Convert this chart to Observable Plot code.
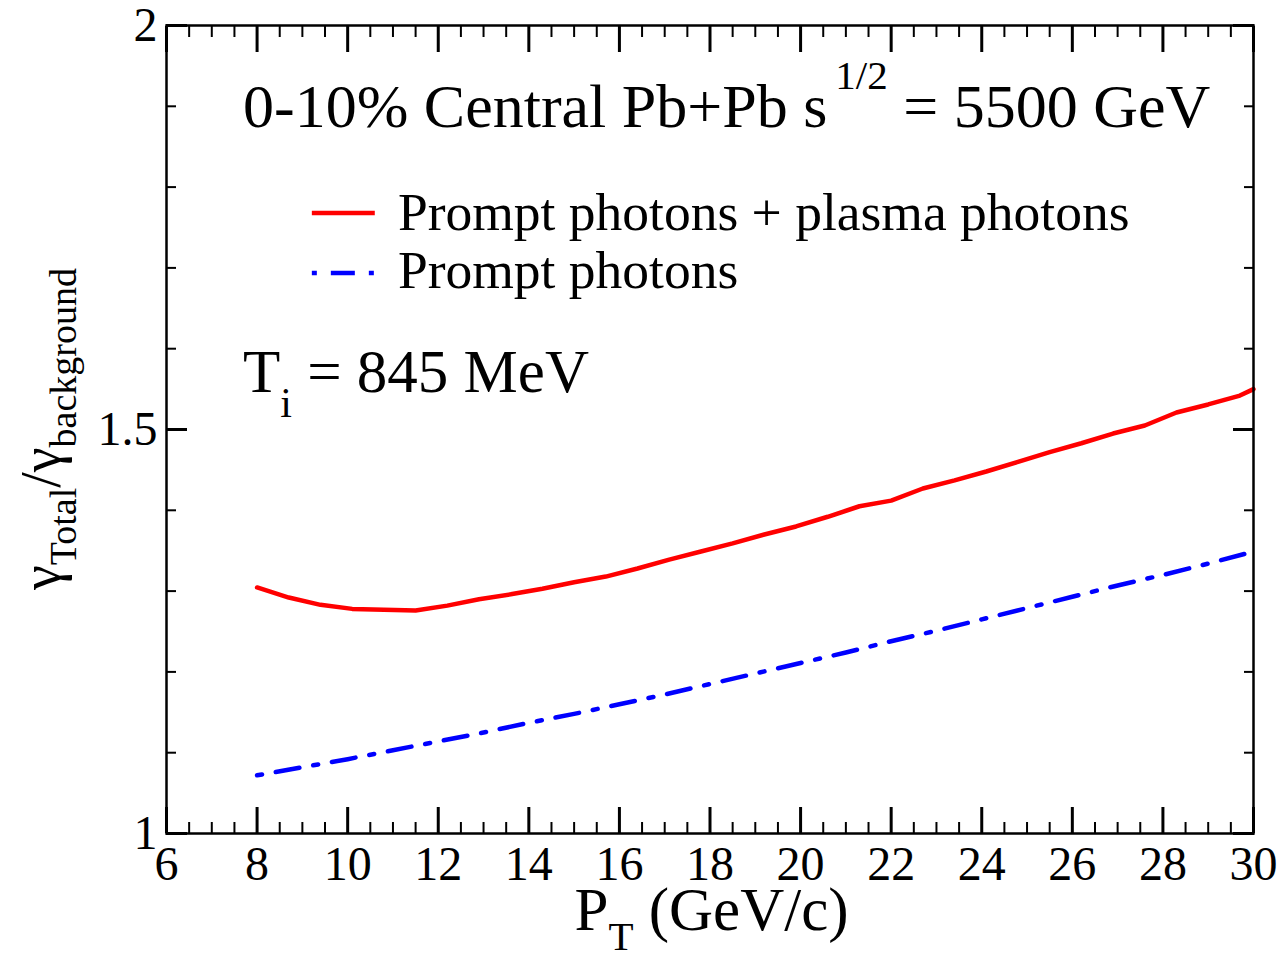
<!DOCTYPE html>
<html>
<head>
<meta charset="utf-8">
<script src="https://cdn.jsdelivr.net/npm/d3@7"></script>
<script src="https://cdn.jsdelivr.net/npm/@observablehq/plot@0.6"></script>
<style>
  html, body { margin: 0; padding: 0; background: #fff; }
  #chart svg { display: block; }
</style>
</head>
<body>
<div id="chart"></div>
<script>
// ---- Data ----
const ptTotal = [8.0, 8.7, 9.4, 10.1, 10.8, 11.5, 12.2, 12.9, 13.6, 14.3, 15.0, 15.7, 16.4, 17.1, 17.8, 18.5, 19.2, 19.9, 20.6, 21.3, 22.0, 22.7, 23.4, 24.1, 24.8, 25.5, 26.2, 26.9, 27.6, 28.3, 29.0, 29.7, 30.0];
const ratioTotal = [1.3045, 1.292, 1.283, 1.278, 1.277, 1.276, 1.282, 1.290, 1.296, 1.303, 1.311, 1.318, 1.328, 1.339, 1.349, 1.359, 1.370, 1.380, 1.392, 1.405, 1.412, 1.427, 1.437, 1.448, 1.460, 1.472, 1.483, 1.495, 1.505, 1.521, 1.531, 1.542, 1.550];
const ptPrompt = [8, 9, 10, 11, 12, 13, 14, 15, 16, 17, 18, 19, 20, 21, 22, 23, 24, 25, 26, 27, 28, 29, 30];
const ratioPrompt = [1.072, 1.082, 1.092, 1.103, 1.114, 1.125, 1.137, 1.148, 1.160, 1.172, 1.185, 1.198, 1.211, 1.224, 1.238, 1.251, 1.265, 1.279, 1.293, 1.307, 1.320, 1.334, 1.349];

const seriesNames = ["Prompt photons + plasma photons", "Prompt photons"];
const seriesColors = ["#ff0000", "#0000ff"];

const xMajorTicks = [6, 8, 10, 12, 14, 16, 18, 20, 22, 24, 26, 28, 30];
const xMinorTicks = [6.5, 7, 7.5, 8.5, 9, 9.5, 10.5, 11, 11.5, 12.5, 13, 13.5, 14.5, 15, 15.5, 16.5, 17, 17.5, 18.5, 19, 19.5, 20.5, 21, 21.5, 22.5, 23, 23.5, 24.5, 25, 25.5, 26.5, 27, 27.5, 28.5, 29, 29.5];
const yMajorTicks = [1, 1.5, 2];
const yMinorTicks = [1.1, 1.2, 1.3, 1.4, 1.6, 1.7, 1.8, 1.9];

const dataTotal = ptTotal.map((x, i) => ({x, y: ratioTotal[i]}));
const dataPrompt = ptPrompt.map((x, i) => ({x, y: ratioPrompt[i]}));

const W = 1285, H = 956;
const FONT = "'Liberation Serif', 'Times New Roman', serif";
const dash = "5,14,24,14";

const majorLen = 26, minorLen = 11, yMajorLen = 21, yMinorLen = 10;

const chart = Plot.plot({
  width: W,
  height: H,
  marginLeft: 166,
  marginRight: 32,
  marginTop: 25,
  marginBottom: 123,
  style: {fontFamily: FONT, fontSize: "48px", color: "black", background: "white"},
  x: {domain: [6, 30]},
  y: {domain: [1, 2]},
  marks: [
    // inward ticks, bottom
    Plot.axisX({anchor: "bottom", ticks: xMinorTicks, tickSize: minorLen, dy: -minorLen, strokeWidth: 2, fill: "none", label: null}),
    Plot.axisX({anchor: "bottom", ticks: xMajorTicks, tickSize: majorLen, dy: -majorLen, strokeWidth: 3, fill: "none", label: null}),
    // inward ticks, top
    Plot.axisX({anchor: "top", ticks: xMinorTicks, tickSize: minorLen, dy: minorLen, strokeWidth: 2, fill: "none", label: null}),
    Plot.axisX({anchor: "top", ticks: xMajorTicks, tickSize: majorLen, dy: majorLen, strokeWidth: 3, fill: "none", label: null}),
    // inward ticks, left / right
    Plot.axisY({anchor: "left", ticks: yMinorTicks, tickSize: yMinorLen, dx: yMinorLen, strokeWidth: 2, fill: "none", label: null}),
    Plot.axisY({anchor: "left", ticks: yMajorTicks, tickSize: yMajorLen, dx: yMajorLen, strokeWidth: 3, fill: "none", label: null}),
    Plot.axisY({anchor: "right", ticks: yMinorTicks, tickSize: yMinorLen, dx: -yMinorLen, strokeWidth: 2, fill: "none", label: null}),
    Plot.axisY({anchor: "right", ticks: yMajorTicks, tickSize: yMajorLen, dx: -yMajorLen, strokeWidth: 3, fill: "none", label: null}),
    // tick labels
    Plot.axisX({anchor: "bottom", ticks: xMajorTicks, tickSize: 0, tickPadding: 12, tickFormat: d => String(d), fontSize: 48, label: null}),
    Plot.axisY({anchor: "left", ticks: yMajorTicks, tickSize: 0, tickPadding: 9, tickFormat: d => String(d), fontSize: 48, label: null}),
    // curves
    Plot.line(dataTotal, {x: "x", y: "y", stroke: seriesColors[0], strokeWidth: 4.5}),
    Plot.line(dataPrompt, {x: "x", y: "y", stroke: seriesColors[1], strokeWidth: 4.5, strokeDasharray: dash}),
    Plot.frame({stroke: "black", strokeWidth: 2.5})
  ]
});

document.getElementById("chart").appendChild(chart);

// ---- Annotations (real text with sub/superscripts) ----
const sx = chart.scale("x"), sy = chart.scale("y");
const svg = d3.select(chart);
const g = svg.append("g").attr("font-family", FONT).attr("fill", "black").attr("text-anchor", "start");

// Title
const title = g.append("text")
  .attr("x", sx.apply(7.7)).attr("y", sy.apply(1.8735))
  .attr("font-size", 62);
title.append("tspan").text("0-10% Central Pb+Pb s");
title.append("tspan").attr("font-size", 41).attr("dx", 8).attr("dy", -38).text("1/2");
title.append("tspan").attr("dy", 38).text(" = 5500 GeV");

// Legend
const legX0 = sx.apply(9.22), legX1 = sx.apply(10.61), legTextX = sx.apply(11.12);
const legRows = [sy.apply(1.7673), sy.apply(1.6931)];
const legBase = [sy.apply(1.7463), sy.apply(1.6745)];
seriesNames.forEach((name, i) => {
  g.append("line")
    .attr("x1", legX0).attr("x2", legX1)
    .attr("y1", legRows[i]).attr("y2", legRows[i])
    .attr("stroke", seriesColors[i]).attr("stroke-width", 4.5)
    .attr("stroke-dasharray", i === 1 ? dash : null);
  g.append("text").attr("x", legTextX).attr("y", legBase[i])
    .attr("font-size", 53.5).text(name);
});

// T_i annotation
const ti = g.append("text").attr("x", sx.apply(7.7)).attr("y", sy.apply(1.5458)).attr("font-size", 61);
ti.append("tspan").text("T");
ti.append("tspan").attr("font-size", 42).attr("dy", 25).text("i");
ti.append("tspan").attr("dy", -25).text(" = 845 MeV");

// X axis label
const xl = g.append("text")
  .attr("x", (sx.range[0] + sx.range[1]) / 2 + 2).attr("y", 930)
  .attr("text-anchor", "middle").attr("font-size", 61);
xl.append("tspan").text("P");
xl.append("tspan").attr("font-size", 41).attr("dy", 20).text("T");
xl.append("tspan").attr("dy", -20).text(" (GeV/c)");

// Y axis label
const yl = g.append("text")
  .attr("transform", `translate(60, ${(sy.range[0] + sy.range[1]) / 2}) rotate(-90)`)
  .attr("text-anchor", "middle").attr("font-size", 56);
yl.append("tspan").text("γ");
yl.append("tspan").attr("font-size", 38).attr("dy", 16).text("Total");
yl.append("tspan").attr("dy", -16).text("/");
yl.append("tspan").text("γ");
yl.append("tspan").attr("font-size", 38).attr("dy", 16).text("background");
</script>
</body>
</html>
